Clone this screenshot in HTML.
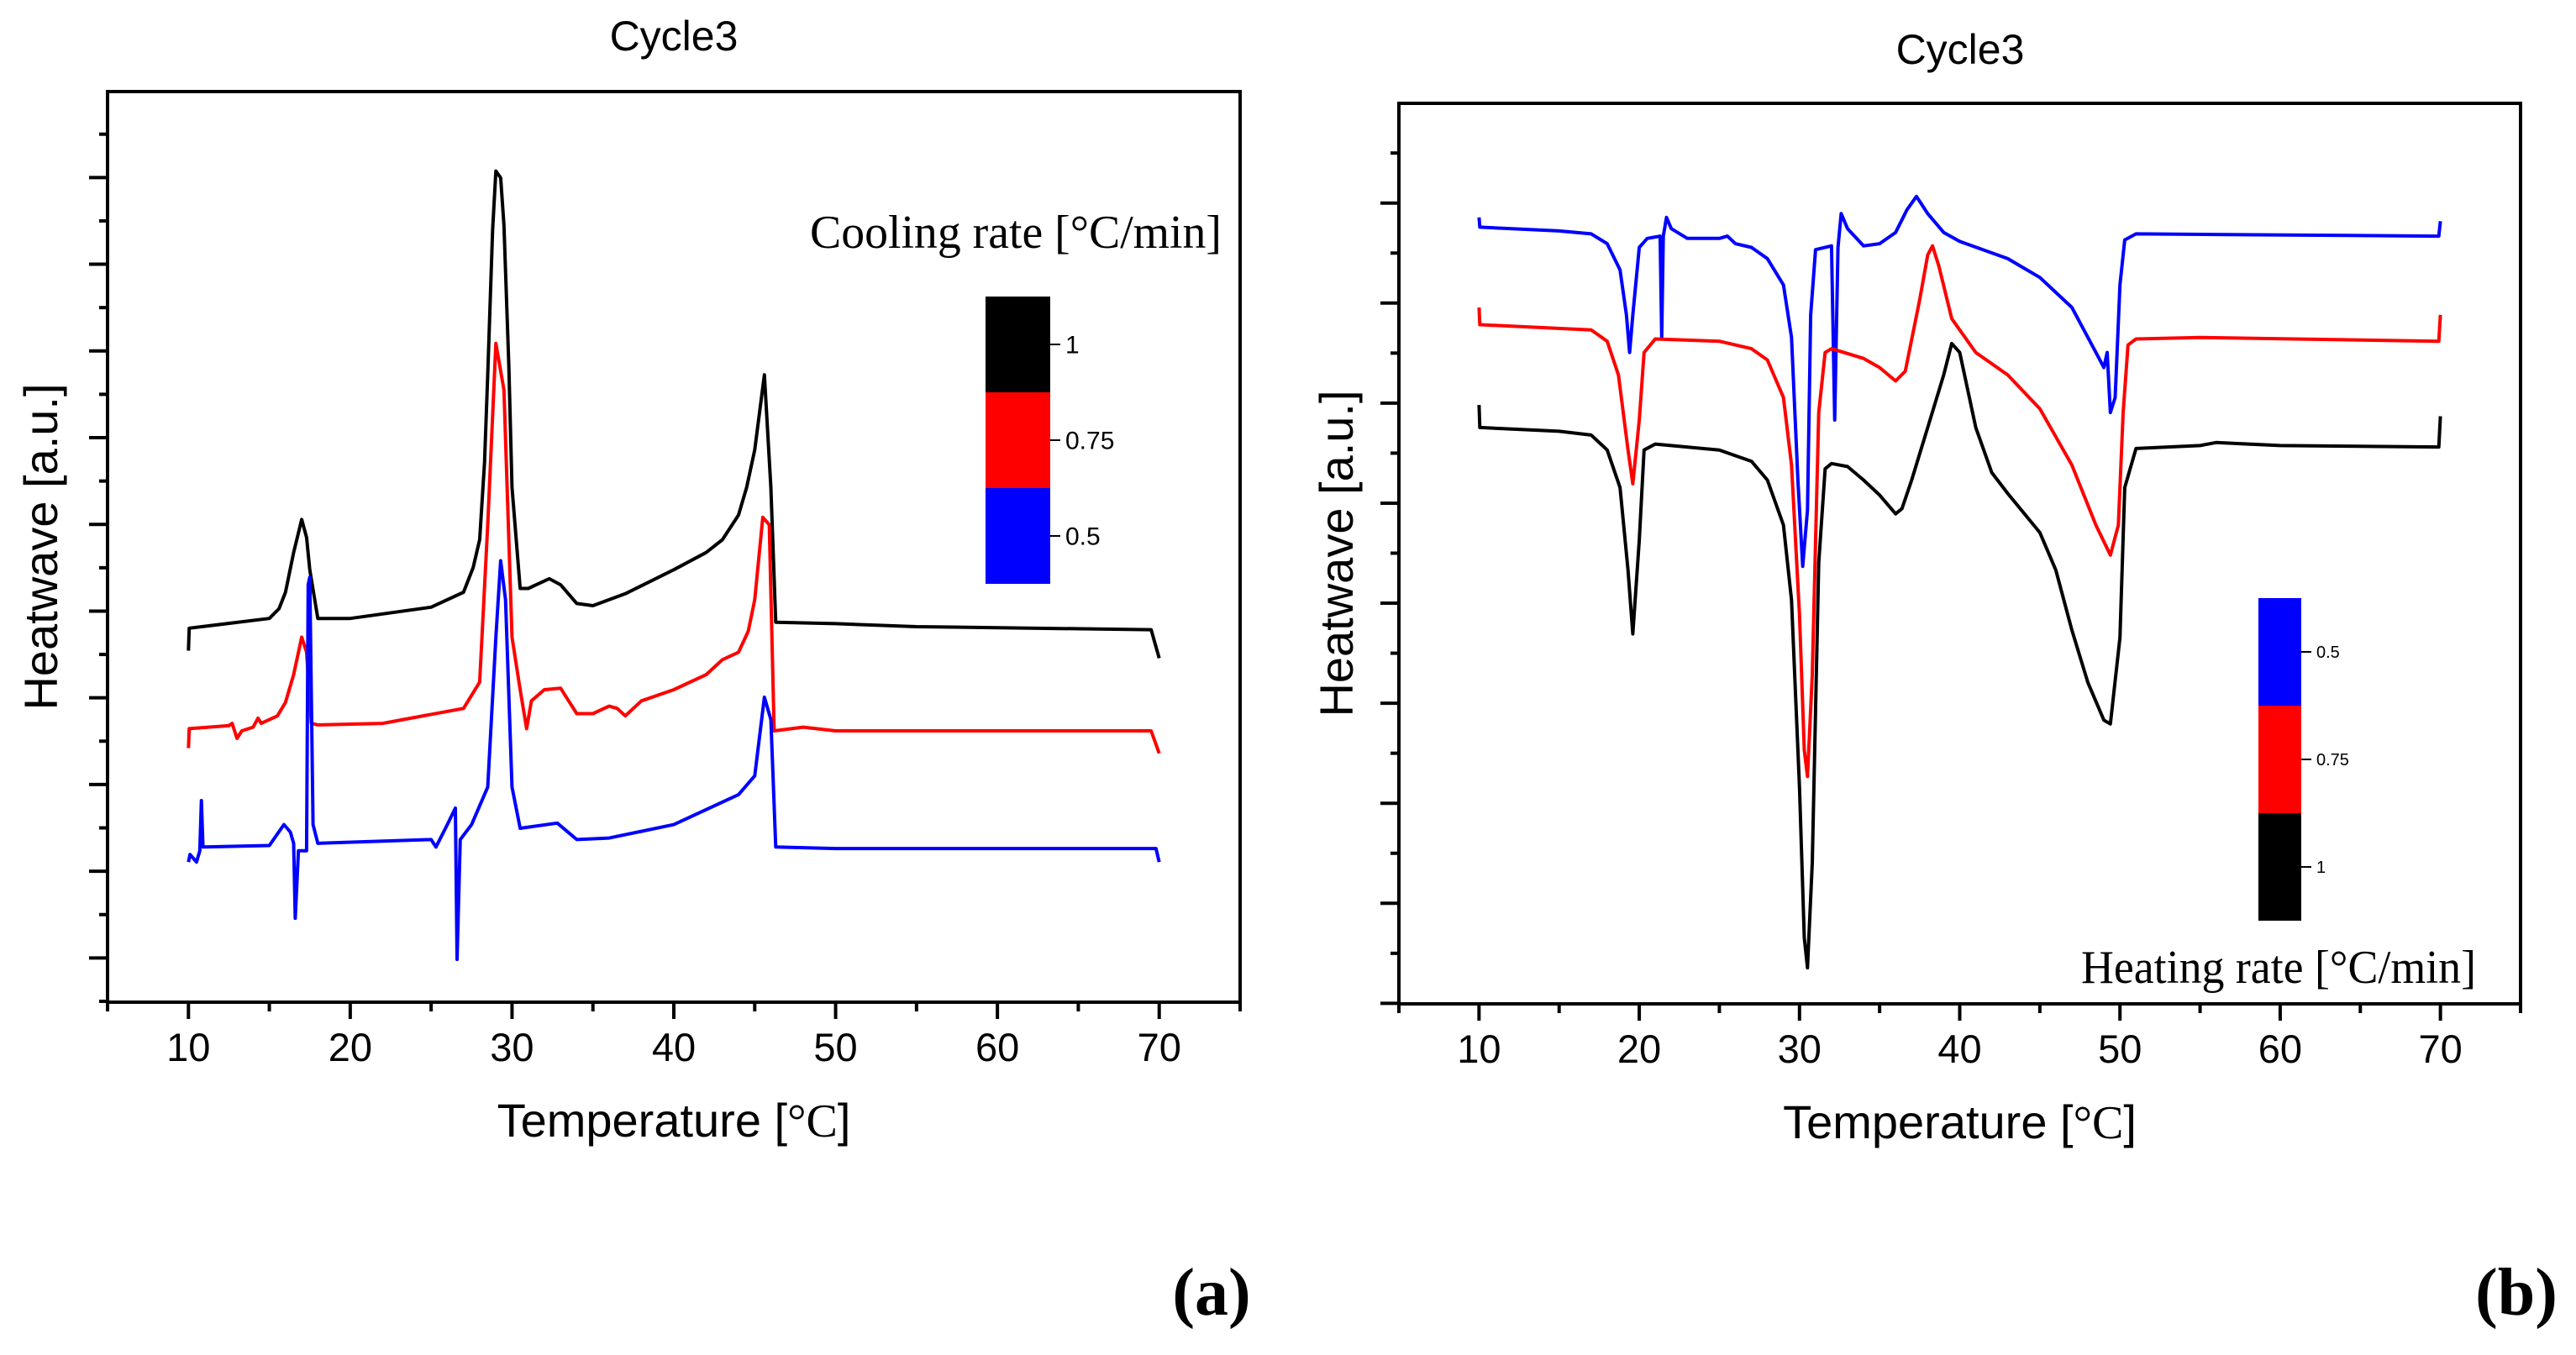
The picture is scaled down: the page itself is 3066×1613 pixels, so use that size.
<!DOCTYPE html>
<html><head><meta charset="utf-8">
<style>
html,body{margin:0;padding:0;background:#fff;}
svg{display:block;}
text{font-family:"Liberation Sans",Arial,sans-serif;fill:#000;}
.serif{font-family:"Liberation Serif","Times New Roman",serif;}
</style></head>
<body>
<svg id="fig" width="3066" height="1613" viewBox="0 0 3066 1613" xmlns="http://www.w3.org/2000/svg">
<rect x="0" y="0" width="3066" height="1613" fill="#fff"/>
<text x="1442" y="1565" font-size="80" font-weight="bold" class="serif" text-anchor="middle">(a)</text>
<text x="2995" y="1565" font-size="80" font-weight="bold" class="serif" text-anchor="middle">(b)</text>
</svg>
<script>
// ---------- Panel (a): cooling ----------
const aXTicks = [10, 20, 30, 40, 50, 60, 70];
const aBlack = [[10,4.69],[10.05,4.99],[15,5.12],[15.6,5.25],[16,5.47],[16.5,6.0],[17,6.44],[17.3,6.2],[17.5,5.77],[18,5.12],[20,5.12],[25,5.27],[27,5.47],[27.6,5.8],[28,6.17],[28.3,7.2],[28.5,8.37],[28.8,10.3],[29,11.09],[29.3,11.0],[29.5,10.37],[29.8,8.5],[30,6.87],[30.5,5.52],[31,5.52],[32.3,5.65],[33,5.57],[34,5.32],[35,5.29],[37,5.45],[40,5.77],[42,6.0],[43,6.17],[44,6.5],[44.5,6.87],[45,7.37],[45.6,8.37],[46,6.87],[46.3,5.07],[50,5.05],[55,5.01],[69.5,4.97],[70,4.59]];
const aRed = [[10,3.39],[10.05,3.65],[12.5,3.69],[12.7,3.72],[13,3.52],[13.3,3.62],[14,3.67],[14.3,3.79],[14.5,3.72],[15.5,3.82],[16,4.0],[16.5,4.37],[17,4.87],[17.3,4.67],[17.6,3.72],[18,3.70],[22,3.72],[27,3.92],[28,4.27],[28.5,6.37],[29,8.79],[29.5,8.17],[30,4.87],[30.5,4.17],[30.9,3.65],[31.2,4.02],[32,4.17],[33,4.19],[33.5,4.02],[34,3.85],[35,3.85],[36,3.95],[36.5,3.92],[37,3.82],[38,4.02],[40,4.17],[42,4.37],[43,4.57],[44,4.67],[44.6,4.95],[45,5.37],[45.5,6.47],[45.9,6.37],[46.2,3.62],[48,3.67],[50,3.62],[69.5,3.62],[70,3.32]];
const aBlue = [[10,1.87],[10.1,1.97],[10.5,1.87],[10.7,2.02],[10.8,2.69],[10.9,2.07],[15,2.09],[15.9,2.37],[16.3,2.27],[16.5,2.12],[16.6,1.12],[16.8,2.02],[17.3,2.02],[17.4,5.57],[17.5,5.67],[17.7,2.37],[18,2.12],[25,2.17],[25.3,2.07],[26,2.37],[26.5,2.59],[26.6,0.57],[26.8,2.17],[27.5,2.37],[28.5,2.87],[29,4.87],[29.3,5.89],[29.6,5.37],[30,2.87],[30.5,2.32],[32.8,2.39],[34,2.17],[36,2.19],[40,2.37],[44,2.77],[45,3.02],[45.6,4.07],[46,3.77],[46.3,2.07],[50,2.05],[69.8,2.05],[70,1.87]];
const aLegendLabels = ["1", "0.75", "0.5"];

// ---------- Panel (b): heating ----------
const bXTicks = [10, 20, 30, 40, 50, 60, 70];
const bBlue = [[10,10.48],[10.05,10.35],[15,10.30],[17,10.26],[18,10.13],[18.8,9.78],[19.2,9.18],[19.4,8.68],[19.6,9.18],[20,10.08],[20.5,10.20],[21.3,10.23],[21.4,8.88],[21.5,10.23],[21.7,10.48],[22,10.33],[23,10.20],[25,10.20],[25.5,10.23],[26,10.13],[27,10.08],[28,9.93],[29,9.58],[29.5,8.88],[29.9,6.98],[30.2,5.83],[30.5,6.58],[30.7,9.18],[31,10.05],[32,10.10],[32.2,7.78],[32.4,10.08],[32.6,10.53],[33,10.33],[34,10.10],[35,10.13],[36,10.28],[36.7,10.58],[37.3,10.76],[38,10.53],[39,10.28],[40,10.16],[43,9.93],[45,9.68],[47,9.28],[48.5,8.68],[49,8.48],[49.2,8.68],[49.4,7.88],[49.7,8.08],[50,9.58],[50.3,10.18],[51,10.26],[69.9,10.23],[70,10.43]];
const bRed = [[10,9.28],[10.05,9.05],[17,8.98],[18,8.83],[18.7,8.38],[19.3,7.38],[19.6,6.93],[20,7.78],[20.3,8.68],[21,8.86],[25,8.83],[27,8.73],[28,8.58],[29,8.08],[29.5,7.18],[30,5.18],[30.3,3.38],[30.5,3.03],[30.8,4.38],[31.2,7.88],[31.6,8.68],[32,8.73],[34,8.60],[35,8.48],[36,8.30],[36.6,8.43],[37.5,9.38],[38,9.98],[38.3,10.10],[38.7,9.83],[39.5,9.13],[41,8.68],[43,8.38],[45,7.93],[47,7.18],[48.5,6.38],[49.4,5.98],[49.9,6.38],[50.2,7.88],[50.5,8.78],[51,8.86],[55,8.88],[69.9,8.83],[70,9.18]];
const bBlack = [[10,7.98],[10.05,7.68],[15,7.63],[17,7.58],[18,7.38],[18.8,6.88],[19.3,5.78],[19.6,4.93],[20,6.18],[20.3,7.38],[21,7.46],[25,7.38],[27,7.23],[28,6.98],[29,6.38],[29.5,5.38],[30,2.88],[30.3,0.88],[30.5,0.48],[30.8,1.88],[31.2,5.88],[31.6,7.13],[32,7.20],[33,7.16],[34,6.98],[35,6.78],[36,6.53],[36.4,6.60],[37,6.98],[38,7.68],[39,8.38],[39.5,8.80],[40,8.68],[41,7.68],[42,7.08],[43,6.80],[45,6.28],[46,5.78],[47,4.98],[48,4.28],[49,3.78],[49.4,3.73],[50,4.88],[50.3,6.88],[51,7.40],[55,7.44],[56,7.48],[60,7.44],[69.9,7.42],[70,7.83]];
const bLegendLabels = ["0.5", "0.75", "1"];

const NS = "http://www.w3.org/2000/svg";
const svg = document.getElementById("fig");
function mk(tag, attrs, parent) {
  const e = document.createElementNS(NS, tag);
  for (const k in attrs) e.setAttribute(k, attrs[k]);
  (parent || svg).appendChild(e);
  return e;
}

function drawPanel(cfg) {
  const g = mk("g", {});
  
  
  const xs = t => cfg.L + (t - cfg.xmin) / (cfg.xmax - cfg.xmin) * (cfg.R - cfg.L);
  const ys = v => cfg.B - (v - cfg.ymin) / (cfg.ymax - cfg.ymin) * (cfg.B - cfg.T);

  const fr = mk("rect", {x: cfg.L, y: cfg.T, width: cfg.R - cfg.L, height: cfg.B - cfg.T, fill: "none", stroke: "#000", "stroke-width": 4}, g);
  
  

  for (let t = cfg.xmin; t <= cfg.xmax + 0.01; t += 5) {
    const major = Math.round(t) % 10 === 0;
    const tk = mk("line", {x1: xs(t), x2: xs(t), y1: cfg.B, y2: cfg.B + (major ? 20 : 11), stroke: "#000", "stroke-width": 4}, g);
    
    
  }
  cfg.xTicks.forEach(t => {
    const tl = mk("text", {x: xs(t), y: cfg.B + 70, "font-size": 47, "text-anchor": "middle"}, g);
    tl.textContent = String(t);
    
    
  });
  for (let v = cfg.yTick0 - cfg.yStep; v <= cfg.ymax; v += cfg.yStep / 2) {
    if (v < cfg.ymin) continue;
    const k = Math.round((v - cfg.yTick0) / (cfg.yStep / 2));
    const major = k % 2 === 0;
    const tk = mk("line", {x1: cfg.L - (major ? 22 : 10), x2: cfg.L, y1: ys(v), y2: ys(v), stroke: "#000", "stroke-width": 4}, g);
    
    
  }
  cfg.series.forEach(s => {
    const d = s.data.map((p, i) => (i ? "L" : "M") + xs(p[0]).toFixed(1) + " " + ys(p[1]).toFixed(1)).join(" ");
    const p = mk("path", {d: d, fill: "none", stroke: s.color, "stroke-width": 4, "stroke-linejoin": "round"}, g);
    
    
  });
  const ti = mk("text", {x: cfg.titleX, y: cfg.titleY, "font-size": 50, "text-anchor": "middle"}, g);
  ti.textContent = "Cycle3";
  
  
  const xt = mk("text", {x: (cfg.L + cfg.R) / 2, y: cfg.B + 160, "font-size": 56, "text-anchor": "middle"}, g);
  xt.innerHTML = 'Temperature [<tspan font-family="Liberation Serif, serif">°C</tspan>]';
  
  
  const yt = mk("text", {x: 0, y: 0, "font-size": 56, "text-anchor": "middle", transform: "translate(" + cfg.yLabelX + "," + (cfg.T + cfg.B) / 2 + ") rotate(-90)"}, g);
  yt.textContent = "Heatwave [a.u.]";
  
  
  const lg = mk("g", {}, g);
  
  
  cfg.legend.colors.forEach((c, i) => {
    const y0 = cfg.legend.y + i * cfg.legend.h;
    const r = mk("rect", {x: cfg.legend.x, y: y0, width: cfg.legend.w, height: cfg.legend.h, fill: c}, lg);
    
    
    const tk = mk("line", {x1: cfg.legend.x + cfg.legend.w, x2: cfg.legend.x + cfg.legend.w + 12, y1: y0 + cfg.legend.h / 2, y2: y0 + cfg.legend.h / 2, stroke: "#000", "stroke-width": 2}, lg);
    
    
    const lt = mk("text", {x: cfg.legend.x + cfg.legend.w + 18, y: y0 + cfg.legend.h / 2 + cfg.legend.fs * 0.35, "font-size": cfg.legend.fs}, lg);
    lt.textContent = cfg.legend.labels[i];
    
    
  });
  const lh = mk("text", {x: cfg.legend.tx, y: cfg.legend.ty, "font-size": 56, "class": "serif", textLength: cfg.legend.tw, lengthAdjust: "spacingAndGlyphs"}, lg);
  lh.textContent = cfg.legend.title;
  
  
}

drawPanel({
  name: "chart-cooling", L: 128, R: 1476, T: 109, B: 1193,
  xmin: 5, xmax: 75, ymin: 0, ymax: 12.15, yTick0: 0.59, yStep: 1.157,
  xTicks: aXTicks, titleX: 802, titleY: 60, yLabelX: 68,
  series: [
    {name: "series-rate-1", color: "#000", data: aBlack},
    {name: "series-rate-0-75", color: "#ff0000", data: aRed},
    {name: "series-rate-0-5", color: "#0000ff", data: aBlue}
  ],
  legend: {x: 1173, y: 353, w: 77, h: 114, colors: ["#000", "#ff0000", "#0000ff"], labels: aLegendLabels, fs: 30,
           title: "Cooling rate [°C/min]", tx: 964, ty: 295, tw: 490}
});

drawPanel({
  name: "chart-heating", L: 1665, R: 3000, T: 123, B: 1195,
  xmin: 5, xmax: 75, ymin: 0, ymax: 12, yTick0: 1.34, yStep: 1.333,
  xTicks: bXTicks, titleX: 2333, titleY: 76, yLabelX: 1610,
  series: [
    {name: "series-rate-0-5", color: "#0000ff", data: bBlue},
    {name: "series-rate-0-75", color: "#ff0000", data: bRed},
    {name: "series-rate-1", color: "#000", data: bBlack}
  ],
  legend: {x: 2688, y: 712, w: 51, h: 128, colors: ["#0000ff", "#ff0000", "#000"], labels: bLegendLabels, fs: 20,
           title: "Heating rate [°C/min]", tx: 2477, ty: 1170, tw: 470}
});
</script>
</body></html>
